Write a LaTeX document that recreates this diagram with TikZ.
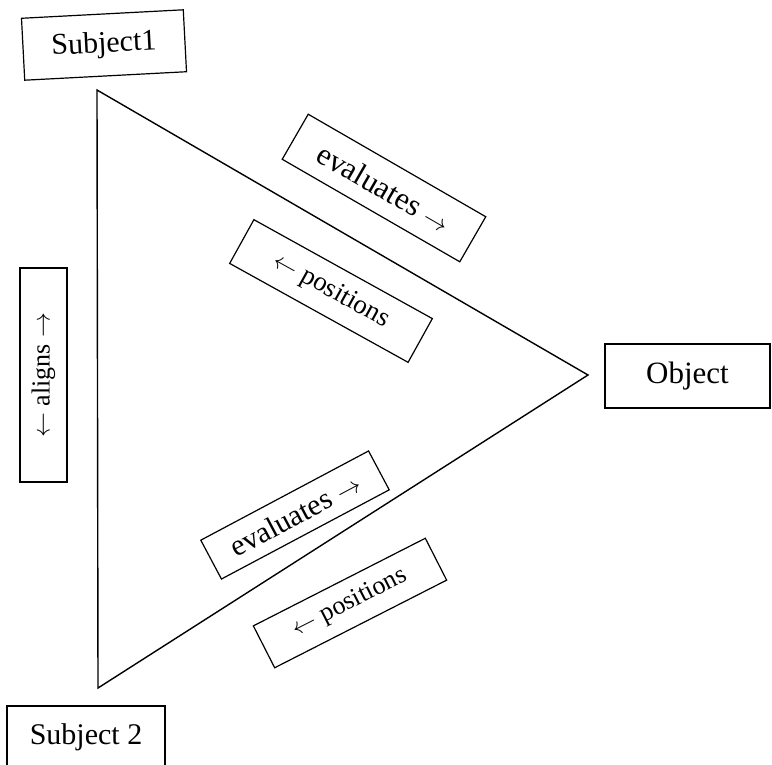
\documentclass[tikz,border=0pt]{standalone}
\usepackage{fontspec}
\setmainfont{Liberation Serif}
\begin{document}
\begin{tikzpicture}[x=1pt,y=-1pt,
  lbl/.style={draw,line width=1.2pt,inner sep=0pt,align=center},
  tri/.style={draw,line width=1.4pt,line join=miter}]
\useasboundingbox (0,0) rectangle (772,764);
\fill[white] (0,0) rectangle (772,764);
\coordinate (t1) at (97,90);
\coordinate (t2) at (588,375);
\coordinate (t3) at (98,688);
\draw[tri] (t1) -- (t2) -- (t3) -- cycle;
\node[lbl,minimum width=162pt,minimum height=62pt,rotate=3,font=\fontsize{30}{32}\selectfont] (s1) at (104,45) {Subject1};
\node[lbl,minimum width=165pt,minimum height=64pt,font=\fontsize{31}{33}\selectfont] (obj) at (687.5,376) {Object};
\node[lbl,minimum width=158pt,minimum height=62pt,font=\fontsize{30}{32}\selectfont] (s2) at (86,737) {Subject 2};
\node[lbl,minimum width=214pt,minimum height=47pt,rotate=90,font=\fontsize{26}{28}\selectfont] (al) at (43.5,375) {$\leftarrow$ aligns $\rightarrow$};
\node[lbl,minimum width=205pt,minimum height=52pt,rotate=-30,font=\fontsize{31}{33}\selectfont] (ev1) at (384,188) {evaluates $\rightarrow$};
\node[lbl,minimum width=204pt,minimum height=50pt,rotate=-29,font=\fontsize{27}{29}\selectfont] (po1) at (331,291) {$\leftarrow$ positions};
\node[lbl,minimum width=190pt,minimum height=44pt,rotate=28,font=\fontsize{30}{32}\selectfont] (ev2) at (295,515) {evaluates $\rightarrow$};
\node[lbl,minimum width=193pt,minimum height=47pt,rotate=27,font=\fontsize{26}{28}\selectfont] (po2) at (350,603) {\raisebox{3pt}{$\leftarrow$ positions}};
\end{tikzpicture}
\end{document}
